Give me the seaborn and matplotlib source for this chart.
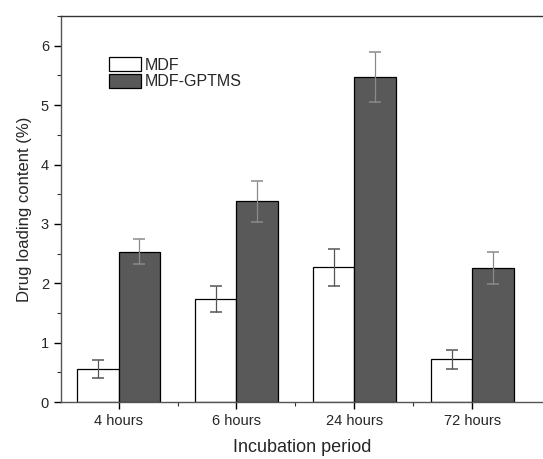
import pandas as pd
import numpy as np
import matplotlib
matplotlib.use("Agg")
import matplotlib.pyplot as plt
import seaborn as sns
from matplotlib.ticker import MultipleLocator

periods = ["4 hours", "6 hours", "24 hours", "72 hours"]
groups = ["MDF", "MDF-GPTMS"]
mdf_vals = [0.56, 1.73, 2.27, 0.72]
mdf_err = [0.15, 0.22, 0.31, 0.16]
gptms_vals = [2.53, 3.38, 5.47, 2.26]
gptms_err = [0.21, 0.35, 0.42, 0.27]

df = pd.DataFrame({
    "period": periods * 2,
    "group": [groups[0]] * 4 + [groups[1]] * 4,
    "value": mdf_vals + gptms_vals,
})

sns.set_style("ticks")
plt.rcParams["font.family"] = ["Liberation Sans", "DejaVu Sans"]

fig = plt.figure(figsize=(5.43, 4.59), dpi=100)
ax = fig.add_axes([0.112, 0.124, 0.888, 0.841])

sns.barplot(data=df, x="period", y="value", hue="group", order=periods,
            hue_order=groups, palette=["white", "#595959"], width=0.7,
            errorbar=None, edgecolor="black", linewidth=0.9, ax=ax)

# error bars at the bar centres; the stem is lighter so it reads inside dark bars
errs = {groups[0]: mdf_err, groups[1]: gptms_err}
vals = {groups[0]: mdf_vals, groups[1]: gptms_vals}
stem_col = {groups[0]: "#555555", groups[1]: "#8a8a8a"}
for cont, g in zip(ax.containers, groups):
    xs = [p.get_x() + p.get_width() / 2 for p in cont.patches]
    eb = ax.errorbar(xs, vals[g], yerr=errs[g], fmt="none", ecolor=stem_col[g],
                     elinewidth=0.9, capsize=4, capthick=1.1, zorder=3)
    for cap in eb[1]:
        cap.set_color("#333333")

ax.set_ylim(0, 6.5)
ax.set_xlim(-0.49, 3.6)
ax.yaxis.set_major_locator(MultipleLocator(1))
ax.yaxis.set_minor_locator(MultipleLocator(0.5))
ax.set_xticks([0.5, 1.5, 2.5], minor=True)
ax.tick_params(axis="both", which="major", direction="out", length=5,
               width=1, labelsize=10.5, color="black")
ax.tick_params(axis="both", which="minor", direction="out", length=3,
               width=0.8, color="#333333")

ax.set_xlabel("Incubation period", fontsize=13, labelpad=8)
ax.set_ylabel("Drug loading content (%)", fontsize=12, labelpad=6)

for s in ["left", "bottom"]:
    ax.spines[s].set_color("#555555")
    ax.spines[s].set_linewidth(1.0)
ax.spines["top"].set_color("#333333")
ax.spines["top"].set_linewidth(1.0)
ax.spines["right"].set_visible(False)

leg = ax.legend(loc="upper left", bbox_to_anchor=(0.087, 0.91), frameon=False,
                fontsize=11.5, handlelength=2.0, handleheight=1.0,
                handletextpad=0.25, labelspacing=0.05, borderaxespad=0)
for h in leg.legend_handles:
    h.set_edgecolor("black")

fig.savefig("out.png", dpi=100)
